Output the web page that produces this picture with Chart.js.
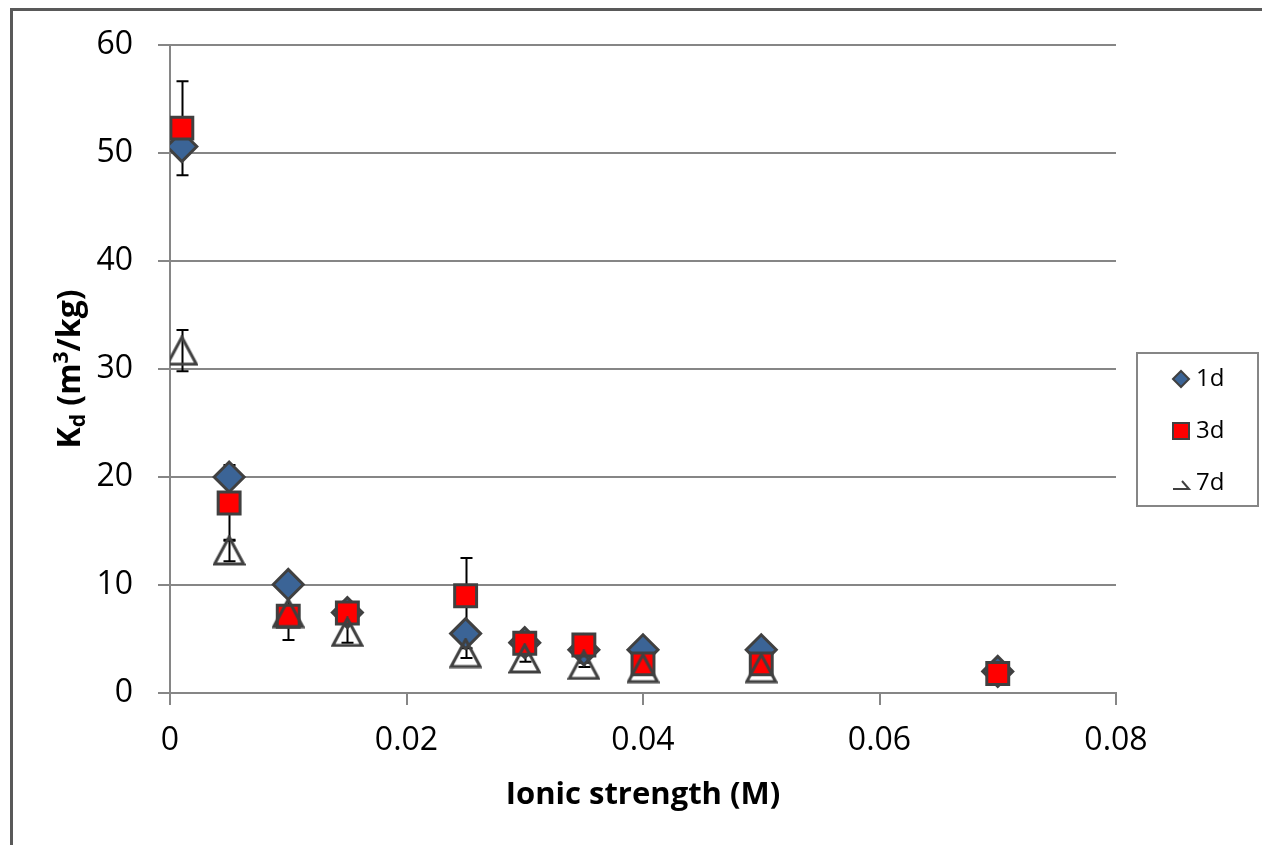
<!DOCTYPE html>
<html>
<head>
<meta charset="utf-8">
<script src="https://cdn.jsdelivr.net/npm/chart.js@4.4.1/dist/chart.umd.min.js"></script>
<style>
  html, body { margin: 0; padding: 0; background: #fff; }
  #wrap { width: 1262px; height: 845px; }
</style>
</head>
<body>
<div id="wrap"><canvas id="kdChart" width="1262" height="845"></canvas></div>
<script>
// values
const ionicStrength = [0.001, 0.005, 0.01, 0.015, 0.025, 0.03, 0.035, 0.04, 0.05, 0.07];
const kd1d = [50.6, 20.0, 10.05, 7.45, 5.5, 4.66, 4.0, 4.0, 4.0, 2.0];
const kd3d = [52.3, 17.6, 7.1, 7.4, 9.0, 4.6, 4.45, 2.7, 2.7, 1.8];
const kd7d = [31.7, 13.2, 7.4, 5.65, 3.7, 3.2, 2.6, 2.3, 2.3, null];
const err1d = [0, 0, 0, 0, 0, 0, 0, 0, 0, 0];
const err3d = [4.35, 3.5, 2.2, 0, 3.5, 0, 0, 0, 0, 0];
const err7d = [1.9, 1.0, 0, 1.0, 0.45, 0.3, 0.2, 0, 0, 0];
const seriesNames = ['1d', '3d', '7d'];
const xTickLabels = ['0', '0.02', '0.04', '0.06', '0.08'];
const yTickLabels = ['0', '10', '20', '30', '40', '50', '60'];

const FONT = '"Open Sans", "Liberation Sans", sans-serif';
const GRID = '#868686';
const EDGE = '#404040';
const BLUE = '#3b6496';

function points(values) {
    return ionicStrength.map((x, i) => ({ x: x, y: values[i] }));
}

// open triangle like the Excel marker (centred on its bounding box)
function makeTriangle() {
    const c = document.createElement('canvas');
    c.width = 33;
    c.height = 31;
    const g = c.getContext('2d');
    g.strokeStyle = EDGE;
    g.lineWidth = 3;
    g.lineJoin = 'miter';
    g.beginPath();
    g.moveTo(16.5, 2);
    g.lineTo(31, 29);
    g.lineTo(2, 29);
    g.closePath();
    g.stroke();
    return c;
}

const errorBars = {
    id: 'errorBars',
    beforeDatasetsDraw(chart) {
        const ctx = chart.ctx;
        const xs = chart.scales.x, ys = chart.scales.y;
        ctx.save();
        ctx.strokeStyle = '#000';
        ctx.lineWidth = 2;
        chart.data.datasets.forEach(ds => {
            ds.errors.forEach((e, i) => {
                const p = ds.data[i];
                if (!e || p.y == null) return;
                const px = Math.round(xs.getPixelForValue(p.x)) + 0.5;
                const top = ys.getPixelForValue(p.y + e);
                const bot = ys.getPixelForValue(p.y - e);
                ctx.beginPath();
                ctx.moveTo(px, top);
                ctx.lineTo(px, bot);
                ctx.moveTo(px - 6, top);
                ctx.lineTo(px + 6, top);
                ctx.moveTo(px - 6, bot);
                ctx.lineTo(px + 6, bot);
                ctx.stroke();
            });
        });
        ctx.restore();
    }
};

const frame = {
    id: 'frame',
    beforeDraw(chart) {
        const ctx = chart.ctx;
        ctx.save();
        ctx.fillStyle = '#fff';
        ctx.fillRect(0, 0, chart.width, chart.height);
        ctx.strokeStyle = '#595959';
        ctx.lineWidth = 3;
        ctx.strokeRect(11.5, 9.5, 1400, 1000);
        ctx.restore();
    }
};

// y title with subscript and superscript
const yTitle = {
    id: 'yTitle',
    afterDraw(chart) {
        const ctx = chart.ctx;
        const cy = (chart.chartArea.top + chart.chartArea.bottom) / 2;
        const big = 'bold 32px ' + FONT;
        const small = 'bold 21px ' + FONT;
        const parts = [
            ['K', big, 0],
            ['d', small, 5],
            [' (m', big, 0],
            ['3', small, -12],
            ['/kg)', big, 0]
        ];
        ctx.save();
        let total = 0;
        parts.forEach(p => { ctx.font = p[1]; total += ctx.measureText(p[0]).width; });
        ctx.translate(80, cy);
        ctx.rotate(-Math.PI / 2);
        ctx.fillStyle = '#000';
        ctx.textBaseline = 'alphabetic';
        let x = -total / 2;
        parts.forEach(p => {
            ctx.font = p[1];
            ctx.fillText(p[0], x, p[2]);
            x += ctx.measureText(p[0]).width;
        });
        ctx.restore();
    }
};

const boxLegend = {
    id: 'boxLegend',
    afterDraw(chart) {
        const ctx = chart.ctx;
        ctx.save();
        ctx.strokeStyle = GRID;
        ctx.lineWidth = 2;
        ctx.strokeRect(1137, 353, 121, 153);
        ctx.font = '24px ' + FONT;
        ctx.fillStyle = '#000';
        ctx.textBaseline = 'middle';
        const sx = 1181;
        chart.data.datasets.forEach((ds, i) => {
            const y = 379 + i * 52;
            ctx.lineWidth = 2;
            ctx.strokeStyle = EDGE;
            ctx.beginPath();
            if (i === 0) {
                ctx.moveTo(sx - 8, y);
                ctx.lineTo(sx, y - 8);
                ctx.lineTo(sx + 8, y);
                ctx.lineTo(sx, y + 8);
                ctx.closePath();
                ctx.fillStyle = ds.backgroundColor;
                ctx.fill();
                ctx.stroke();
            } else if (i === 1) {
                ctx.rect(sx - 8, y - 8, 16, 16);
                ctx.fillStyle = ds.backgroundColor;
                ctx.fill();
                ctx.stroke();
            } else {
                ctx.moveTo(sx - 8, y + 6);
                ctx.lineTo(sx + 8, y + 6);
                ctx.lineTo(sx + 1, y - 2);
                ctx.stroke();
            }
            ctx.fillStyle = '#000';
            ctx.fillText(ds.label, 1196, y);
        });
        ctx.restore();
    }
};

new Chart(document.getElementById('kdChart'), {
    type: 'scatter',
    data: {
        datasets: [
            {
                label: seriesNames[0],
                data: points(kd1d),
                errors: err1d,
                pointStyle: 'rectRot',
                pointRadius: 15,
                backgroundColor: BLUE,
                borderColor: EDGE,
                borderWidth: 3,
                order: 2
            },
            {
                label: seriesNames[1],
                data: points(kd3d),
                errors: err3d,
                pointStyle: 'rect',
                pointRadius: 15.5,
                backgroundColor: '#ff0000',
                borderColor: EDGE,
                borderWidth: 3,
                order: 1
            },
            {
                label: seriesNames[2],
                data: points(kd7d),
                errors: err7d,
                pointStyle: makeTriangle(),
                pointRadius: 15,
                backgroundColor: 'rgba(0,0,0,0)',
                borderColor: EDGE,
                borderWidth: 3,
                order: 0
            }
        ]
    },
    options: {
        responsive: false,
        animation: false,
        devicePixelRatio: 1,
        layout: { padding: { left: 0, right: 146, top: 45, bottom: 0 } },
        plugins: {
            legend: { display: false },
            tooltip: { enabled: false }
        },
        scales: {
            x: {
                type: 'linear',
                min: 0,
                max: 0.08,
                ticks: {
                    stepSize: 0.02,
                    color: '#000',
                    font: { family: FONT, size: 32 },
                    padding: 17,
                    maxRotation: 0,
                    callback: (v, i) => xTickLabels[i]
                },
                grid: {
                    drawOnChartArea: false,
                    drawTicks: true,
                    tickLength: 12,
                    color: GRID,
                    lineWidth: 2
                },
                border: { color: GRID, width: 2 },
                title: {
                    display: true,
                    text: 'Ionic strength (M)',
                    color: '#000',
                    font: { family: FONT, size: 31, weight: 'bold' },
                    padding: { top: 0, bottom: 31 }
                },
                afterFit(scale) { scale.height = 152; }
            },
            y: {
                min: 0,
                max: 60,
                ticks: {
                    stepSize: 10,
                    color: '#000',
                    font: { family: FONT, size: 32 },
                    padding: 25,
                    callback: (v, i) => yTickLabels[i]
                },
                grid: {
                    color: GRID,
                    lineWidth: 2,
                    tickLength: 12
                },
                border: { color: GRID, width: 2 },
                afterFit(scale) { scale.width = 170; }
            }
        }
    },
    plugins: [frame, errorBars, yTitle, boxLegend]
});
</script>
</body>
</html>
